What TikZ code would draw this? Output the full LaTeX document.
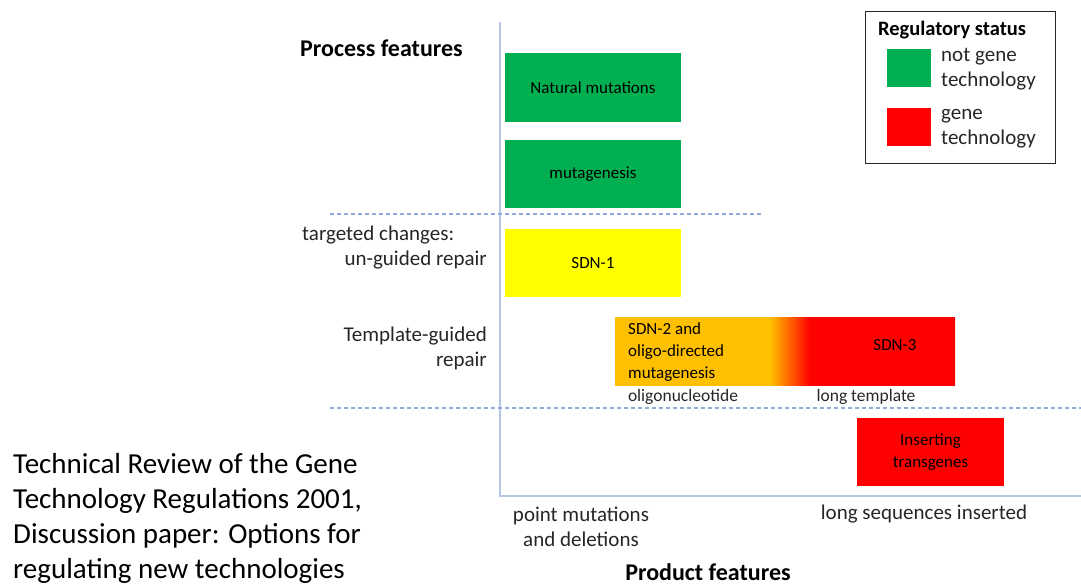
\documentclass[tikz,border=0pt]{standalone}
\usepackage{fontspec}
\setmainfont{Carlito}
\usetikzlibrary{positioning}
\definecolor{gtgreen}{HTML}{00B050}
\definecolor{gtred}{HTML}{FF0000}
\definecolor{gtyellow}{HTML}{FFFF00}
\definecolor{gtorange}{HTML}{FFC000}
\definecolor{axisblue}{HTML}{B4C7E7}
\definecolor{dashblue}{HTML}{8FAADC}
\definecolor{txtgray}{HTML}{262626}
\pgfdeclarehorizontalshading{sdnshade}{100bp}{color(0bp)=(gtorange); color(47.8bp)=(gtorange); color(53.7bp)=(gtred); color(100bp)=(gtred)}
\tikzset{
  box/.style = {inner sep = 0, minimum height = 68, font = \fontsize{17}{22}\selectfont, text = black},
  swatch/.style = {inner sep = 0, minimum width = 44, minimum height = 38},
  lbl/.style = {inner sep = 0, text = txtgray, font = \fontsize{21}{25}\selectfont},
  small/.style = {inner sep = 0, text = txtgray, font = \fontsize{17.5}{20}\selectfont},
  head/.style = {inner sep = 0, text = black, font = \fontsize{24}{28}\selectfont\bfseries},
  axis/.style = {axisblue, line width = 2},
  divider/.style = {dashblue, line width = 1.2, dash pattern = on 4 off 3}
}

\begin{document}
\begin{tikzpicture}[x = 1pt, y = -1pt]
      \useasboundingbox (0, 0) rectangle (1081, 586);
      % axes
      \coordinate (top) at (500, 22);
      \coordinate (origin) at (500, 496);
      \coordinate (right) at (1081, 496);
      \draw [axis] (top) -- (origin) -- (right);
      % dividers
      \draw [divider] (330, 214) -- (762, 214);
      \draw [divider] (330, 408) -- (1081, 408);
      % process boxes
      \node [box, fill = gtgreen, minimum width = 176] (natmut) at (593, 87.5) {Natural mutations};
      \node [box, fill = gtgreen, minimum width = 176] (mutag) at (593, 174) {mutagenesis};
      \node [box, fill = gtyellow, minimum width = 176] (sdnone) at (593, 263) {SDN-1};
      \node [box, minimum width = 340, shade, shading = sdnshade] (sdn) at (785, 351) {};
      \node [box, minimum height = 0, anchor = north west, align = left] (sdntwo) at (628, 322) {SDN-2 and\\oligo-directed\\mutagenesis};
      \node [box, minimum height = 0] (sdnthree) at (895, 345) {SDN-3};
      \node [box, fill = gtred, minimum width = 147, align = center] (insert) at (930.5, 452) {Inserting\\transgenes};
      \node [small] (oligo) at (683, 397) {oligonucleotide};
      \node [small] (longtpl) at (866, 397) {long template};
      % legend
      \draw [txtgray, line width = 1] (865, 12) rectangle (1055, 163);
      \node [inner sep = 0, text = black, font = \fontsize{20.5}{24}\selectfont\bfseries] (legtitle) at (952, 30) {Regulatory status};
      \node [swatch, fill = gtgreen] (sqgreen) at (908.5, 68) {};
      \node [swatch, fill = gtred] (sqred) at (908.5, 126.5) {};
      \node [lbl, anchor = west, align = left] (notgt) at (941, 69) {not gene\\technology};
      \node [lbl, anchor = west, align = left] (gt) at (941, 129) {gene\\technology};
      % left side labels
      \node [head, anchor = west] (process) at (300, 48) {Process features};
      \node [lbl, anchor = west] (targeted) at (302, 235) {targeted changes:};
      \node [lbl, anchor = east] (unguided) at (487, 260) {un-guided repair};
      \node [lbl, anchor = east, align = right] (tplguided) at (487, 348.5) {Template-guided\\repair};
      % product axis labels
      \node [lbl, align = center] (point) at (581, 527) {point mutations\\and deletions};
      \node [lbl] (longseq) at (924, 514) {long sequences inserted};
      \node [head] (product) at (708, 572) {Product features};
      % source
      \node [inner sep = 0, anchor = west, align = left, text = black,
             font = \fontsize{29}{35}\selectfont] (source) at (13, 518) {Technical Review of the Gene\\Technology Regulations 2001,\\Discussion paper: Options for\\regulating new technologies};
    \end{tikzpicture}
\end{document}
